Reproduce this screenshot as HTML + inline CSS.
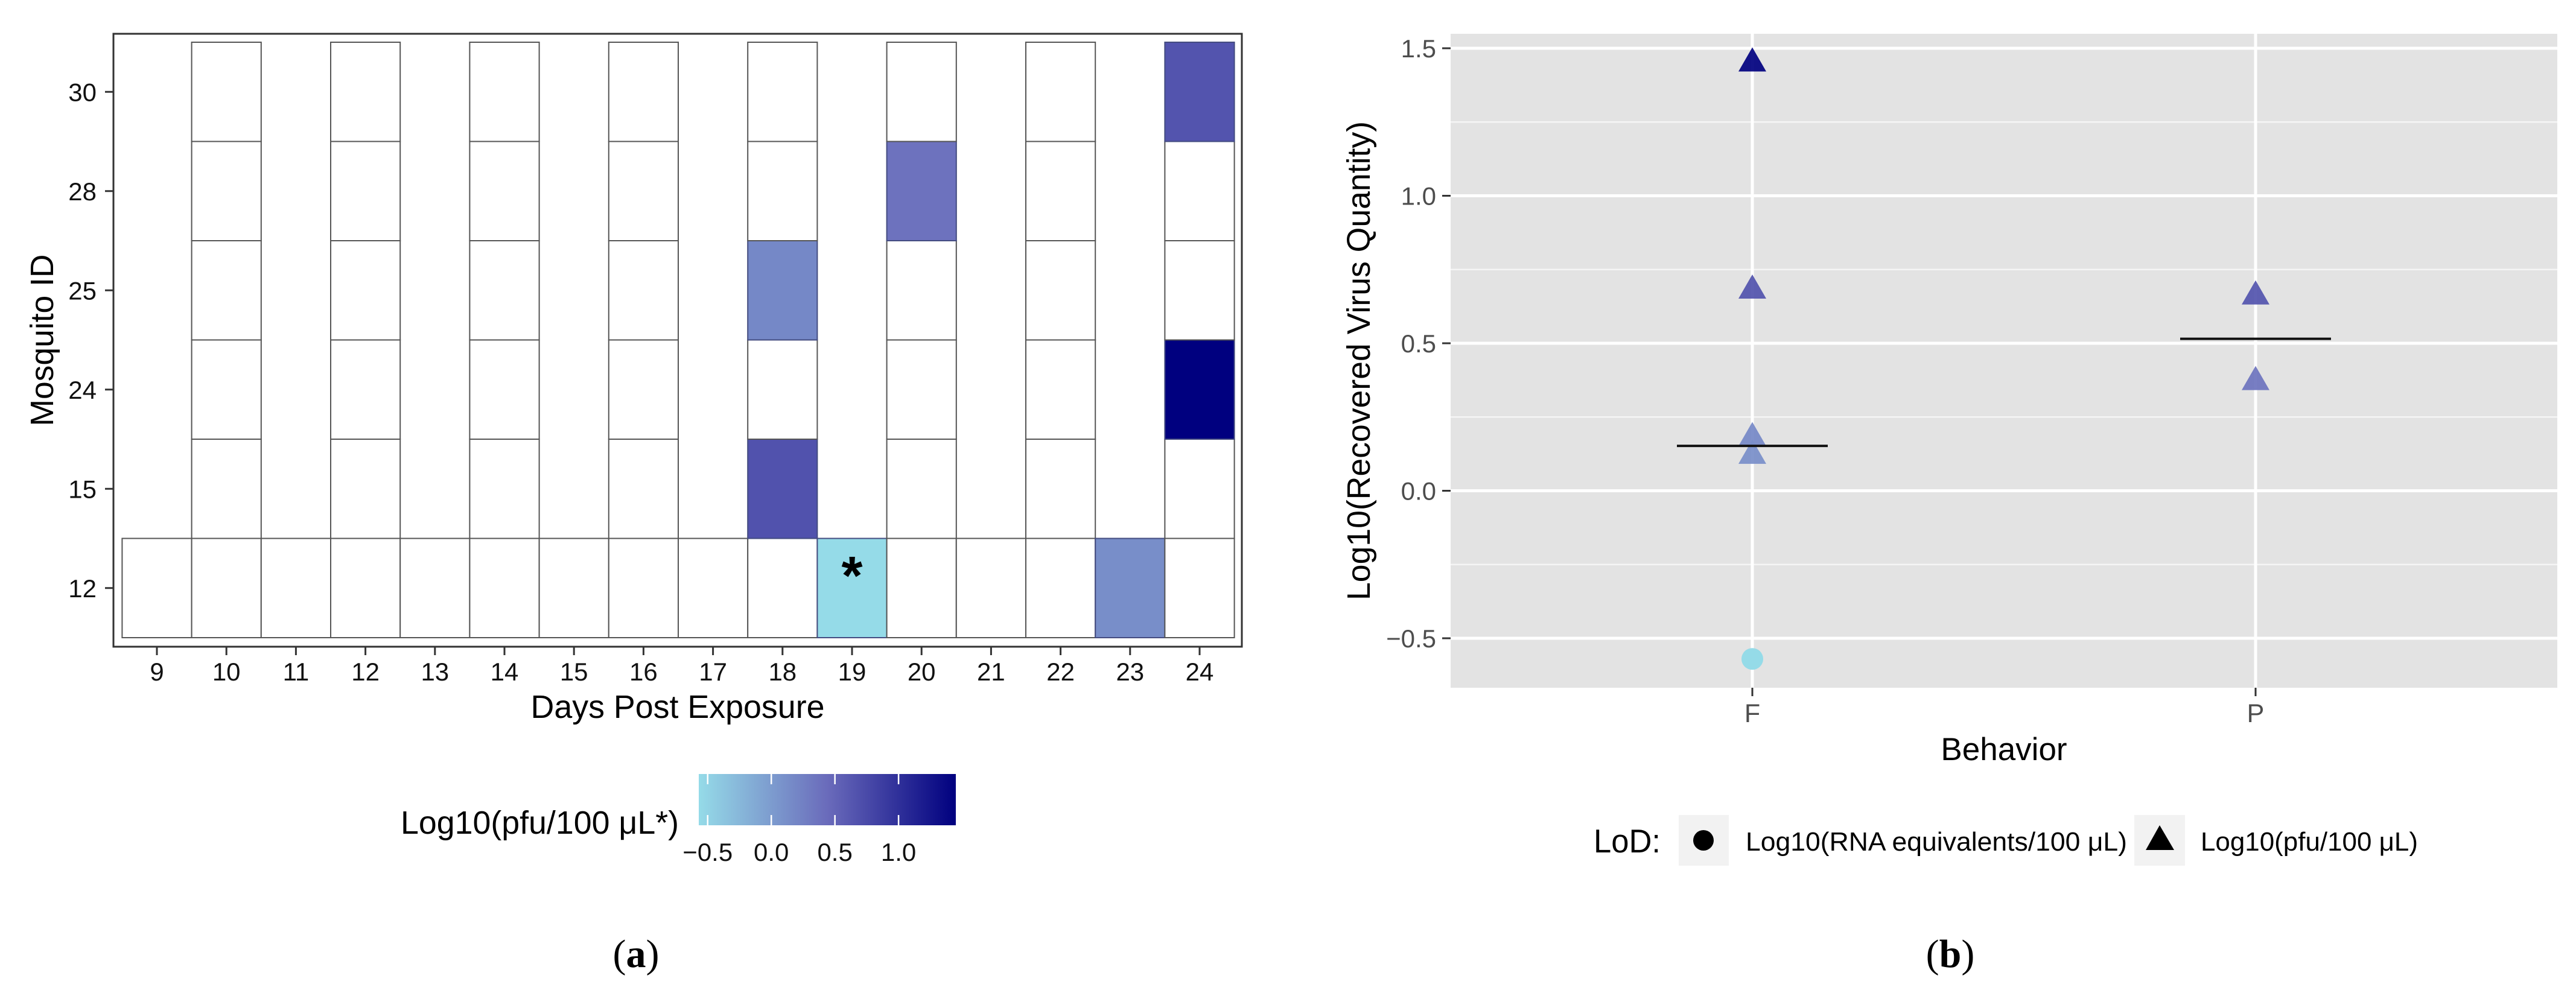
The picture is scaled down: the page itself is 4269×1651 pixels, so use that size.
<!DOCTYPE html>
<html><head><meta charset="utf-8"><style>
html,body{margin:0;padding:0;background:#fff}
svg{display:block;font-family:"Liberation Sans",Arial,sans-serif}
</style></head><body>
<svg id="fig" width="4269" height="1651" viewBox="0 0 4269 1651" xmlns="http://www.w3.org/2000/svg">
<rect width="4269" height="1651" fill="#fff"/>
<g id="pa"></g>
<g id="pb"></g>
</svg>
<script>
// ---------- Panel A data ----------
const days = [9,10,11,12,13,14,15,16,17,18,19,20,21,22,23,24];
const mosquitoIds = ['12','15','24','25','28','30'];
const fullDays = [10,12,14,16,18,20,22,24];          // days with all mosquito ids sampled
const filledDays = [18, 18, 19, 20, 23, 24, 24];
const filledIds  = ['25','15','12','28','12','30','24'];
const filledVals = [0.18, 0.68, -0.57, 0.38, 0.12, 0.66, 1.45];
const colorbarTicks = [-0.5, 0.0, 0.5, 1.0];
const colorbarTickLabels = ['\u22120.5','0.0','0.5','1.0'];
// ---------- Panel B data ----------
const behaviors = ['F','P'];
const ptBehavior = ['F','F','F','F','F','P','P'];
const ptValue    = [1.45, 0.68, 0.18, 0.12, -0.57, 0.66, 0.37];
const ptShape    = ['tri','tri','tri','tri','circle','tri','tri'];
const meanBehavior = ['F','P'];
const meanValue    = [0.152, 0.515];
const yTicksB = [-0.5, 0.0, 0.5, 1.0, 1.5];
const yTickLabelsB = ['\u22120.5','0.0','0.5','1.0','1.5'];
const yMinorB = [-0.25, 0.25, 0.75, 1.25];

const NS = 'http://www.w3.org/2000/svg';
function mk(parent, tag, attrs, text){
  const e = document.createElementNS(NS, tag);
  for (const k in attrs) e.setAttribute(k, attrs[k]);
  if (text !== undefined) e.textContent = text;
  parent.appendChild(e);
  return e;
}
// colour scale
const vMin = -0.57, vMax = 1.45;
const stops = [[0,[149,219,232]],[0.5,[106,107,187]],[1,[0,0,127]]];
function colorOf(v){
  let t = (v - vMin)/(vMax - vMin); t = Math.max(0, Math.min(1, t));
  let i = t <= 0.5 ? 0 : 1;
  const a = stops[i], b = stops[i+1];
  const u = (t - a[0])/(b[0]-a[0]);
  const c = a[1].map((x,k)=>Math.round(x + (b[1][k]-x)*u));
  return 'rgb('+c.join(',')+')';
}

// ---------- Panel A ----------
const pa = document.getElementById('pa');
const colPitch = 115.2, col0 = 260;
function xA(d){ return col0 + (days.indexOf(d))*colPitch; }
const rowH = 164.5, rowBottom = 1057;
function yA(id){ return rowBottom - (mosquitoIds.indexOf(id)+0.5)*rowH; }

let frame = mk(pa,'rect',{x:188,y:56,width:1870,height:1016,fill:'#fff',stroke:'#333',"stroke-width":3});



days.forEach(d=>{
  const ids = fullDays.indexOf(d) >= 0 ? mosquitoIds : ['12'];
  ids.forEach(id=>{
    let k = -1;
    for (let j=0;j<filledDays.length;j++) if (filledDays[j]===d && filledIds[j]===id) k=j;
    const r = mk(pa,'rect',{x:xA(d)-colPitch/2, y:yA(id)-rowH/2, width:colPitch, height:rowH,
      fill: k>=0 ? colorOf(filledVals[k]) : '#fff', stroke: k>=0 ? '#444c80' : '#555', "stroke-width":2});
    
    
  });
});
const ast = mk(pa,'text',{x:xA(19), y:yA('12')+10, "font-size":90, "font-weight":"bold", "text-anchor":"middle"}, '*');



days.forEach(d=>{
  const t = mk(pa,'line',{x1:xA(d),x2:xA(d),y1:1072,y2:1086,stroke:'#333',"stroke-width":3});
  
  
  const l = mk(pa,'text',{x:xA(d),y:1128,"font-size":42,"text-anchor":"middle",fill:'#111'}, String(d));
  
  
});
mosquitoIds.forEach(id=>{
  const t = mk(pa,'line',{x1:174,x2:188,y1:yA(id),y2:yA(id),stroke:'#333',"stroke-width":3});
  
  
  const l = mk(pa,'text',{x:160,y:yA(id)+15,"font-size":42,"text-anchor":"end",fill:'#111'}, id);
  
  
});
let xt = mk(pa,'text',{x:1123,y:1190,"font-size":54,"text-anchor":"middle",textLength:487,lengthAdjust:'spacingAndGlyphs'},'Days Post Exposure');


let yt = mk(pa,'text',{x:0,y:0,"font-size":54,"text-anchor":"middle",transform:'translate(88,564) rotate(-90)',textLength:285,lengthAdjust:'spacingAndGlyphs'},'Mosquito ID');



// colorbar
const cbL = 1158, cbR = 1584, cbT = 1283, cbB = 1368;
function xCb(v){ return cbL + (v - vMin)/(vMax - vMin)*(cbR-cbL); }
const defs = mk(document.getElementById('fig'),'defs',{});
const grad = mk(defs,'linearGradient',{id:'cbg',x1:0,x2:1,y1:0,y2:0});
stops.forEach(s=>mk(grad,'stop',{offset:s[0],"stop-color":'rgb('+s[1].join(',')+')'}));
let cb = mk(pa,'rect',{x:cbL,y:cbT,width:cbR-cbL,height:cbB-cbT,fill:'url(#cbg)'});


colorbarTicks.forEach((v,i)=>{
  const a = mk(pa,'line',{x1:xCb(v),x2:xCb(v),y1:cbT,y2:cbT+17,stroke:'#fff',"stroke-width":2.5});
  
  
  const b = mk(pa,'line',{x1:xCb(v),x2:xCb(v),y1:cbB-17,y2:cbB,stroke:'#fff',"stroke-width":2.5});
  
  
  const l = mk(pa,'text',{x:xCb(v),y:1427,"font-size":42,"text-anchor":"middle",fill:'#111'}, colorbarTickLabels[i]);
  
  
});
let cbt = mk(pa,'text',{x:664,y:1382,"font-size":54,textLength:461,lengthAdjust:'spacingAndGlyphs'},'Log10(pfu/100 \u03BCL*)');


let capA = mk(pa,'text',{x:1054,y:1603,"font-size":66,"text-anchor":"middle","font-family":'"Liberation Serif",serif'});


mk(capA,'tspan',{},'(');
mk(capA,'tspan',{"font-weight":"bold"},'a');
mk(capA,'tspan',{},')');

// ---------- Panel B ----------
const pb = document.getElementById('pb');
const bL = 2404, bR = 4238, bT = 56, bB = 1140;
const xF = 2904, xP = 3738;
function xB(b){ return xF + behaviors.indexOf(b)*(xP-xF); }
function yB(v){ return 569 - (v-0.5)*489; }
let bg = mk(pb,'rect',{x:bL,y:bT,width:bR-bL,height:bB-bT,fill:'#e3e3e3'});


yMinorB.forEach(v=>{
  const g = mk(pb,'line',{x1:bL,x2:bR,y1:yB(v),y2:yB(v),stroke:'#f5f5f5',"stroke-width":2.5});
  
  
});
yTicksB.forEach((v,i)=>{
  const g = mk(pb,'line',{x1:bL,x2:bR,y1:yB(v),y2:yB(v),stroke:'#fff',"stroke-width":5});
  
  
  const t = mk(pb,'line',{x1:bL-14,x2:bL,y1:yB(v),y2:yB(v),stroke:'#333',"stroke-width":3});
  
  
  const l = mk(pb,'text',{x:bL-24,y:yB(v)+15,"font-size":42,"text-anchor":"end",fill:'#4d4d4d'}, yTickLabelsB[i]);
  
  
});
behaviors.forEach(b=>{
  const g = mk(pb,'line',{x1:xB(b),x2:xB(b),y1:bT,y2:bB,stroke:'#fff',"stroke-width":5});
  
  
  const t = mk(pb,'line',{x1:xB(b),x2:xB(b),y1:bB,y2:bB+14,stroke:'#333',"stroke-width":3});
  
  
  const l = mk(pb,'text',{x:xB(b),y:1197,"font-size":43,"text-anchor":"middle",fill:'#4d4d4d'}, b);
  
  
});
ptValue.forEach((v,i)=>{
  const cx = xB(ptBehavior[i]), cy = yB(v);
  let m;
  if (ptShape[i]==='circle'){
    m = mk(pb,'circle',{cx:cx,cy:cy,r:18,fill:colorOf(v)});
  } else {
    m = mk(pb,'polygon',{points:(cx-23)+','+(cy+14)+' '+(cx+23)+','+(cy+14)+' '+cx+','+(cy-26),fill:colorOf(v),"fill-opacity":0.92});
  }
  
  
});
meanValue.forEach((v,i)=>{
  const cx = xB(meanBehavior[i]);
  const m = mk(pb,'line',{x1:cx-125,x2:cx+125,y1:yB(v),y2:yB(v),stroke:'#111',"stroke-width":4});
  
  
});
let bxt = mk(pb,'text',{x:(bL+bR)/2,y:1260,"font-size":53,"text-anchor":"middle"},'Behavior');


let byt = mk(pb,'text',{x:0,y:0,"font-size":54,"text-anchor":"middle",transform:'translate(2270,598) rotate(-90)',textLength:794,lengthAdjust:'spacingAndGlyphs'},'Log10(Recovered Virus Quantity)');


// legend
let lg = mk(pb,'g',{});


let lt = mk(lg,'text',{x:2641,y:1413,"font-size":55,textLength:111,lengthAdjust:'spacingAndGlyphs'},'LoD:');


let k1 = mk(lg,'rect',{x:2782,y:1351,width:83,height:84,fill:'#f2f2f2'});


let d1 = mk(lg,'circle',{cx:2823,cy:1393,r:17,fill:'#000'});


let t1 = mk(lg,'text',{x:2893,y:1410,"font-size":44,textLength:632,lengthAdjust:'spacingAndGlyphs'},'Log10(RNA equivalents/100 \u03BCL)');


let k2 = mk(lg,'rect',{x:3537,y:1351,width:84,height:84,fill:'#f2f2f2'});


let d2 = mk(lg,'polygon',{points:'3556,1409 3603,1409 3579,1368',fill:'#000'});


let t2 = mk(lg,'text',{x:3647,y:1410,"font-size":44,textLength:360,lengthAdjust:'spacingAndGlyphs'},'Log10(pfu/100 \u03BCL)');


let capB = mk(pb,'text',{x:3232,y:1603,"font-size":66,"text-anchor":"middle","font-family":'"Liberation Serif",serif'});


mk(capB,'tspan',{},'(');
mk(capB,'tspan',{"font-weight":"bold"},'b');
mk(capB,'tspan',{},')');
</script>
</body></html>
